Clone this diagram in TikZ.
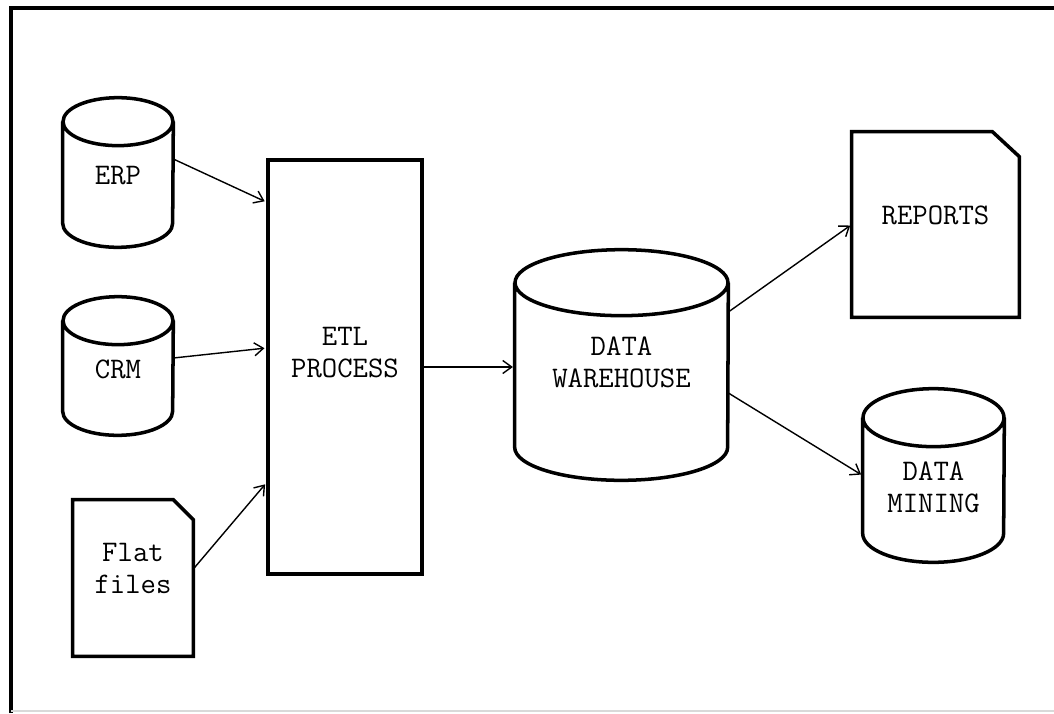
\documentclass[tikz,border=0pt]{standalone}
\usepackage{fontspec}
\usetikzlibrary{arrows.meta}

% drum outline drawn over a plain node: name, half width, half height of the cap
\newcommand\dbcyl[3]{%
  \draw[outline] ([yshift=-#3]#1.north west) -- ([yshift=#3]#1.south west)
    arc[start angle=180,end angle=360,x radius=#2,y radius=#3]
    -- ([yshift=-#3]#1.north east)
    ([yshift=-#3]#1.north) ellipse[x radius=#2,y radius=#3];}
% sheet with a cut top right corner: name, cut in x, cut in y
\newcommand\sheet[3]{%
  \draw[outline] (#1.south west) |- ([xshift=-#2]#1.north east)
    -- ([yshift=-#3]#1.north east) -- (#1.south east) -- cycle;}

\begin{document}
\begin{tikzpicture}[x=0.02cm,y=-0.02cm,
      plain/.style={inner sep=0pt,align=center,
                    font=\ttfamily\fontsize{17}{18.2}\selectfont},
      lift/.style 2 args={text height=#1,text depth=#2},
      outline/.style={line width=2pt},
      proc/.style={plain,draw,line width=2pt},
      flow/.style={-{Straight Barb[length=1.8mm,width=2.6mm]},line width=0.8pt,
                   shorten >=1pt}]
    \useasboundingbox (0,0) rectangle (1054,713);
    % frame
    \draw[line width=2.6pt] (11,713) -- (11,8) -- (1054,8);
    \draw[black!15,line width=1pt] (11,711) -- (1054,711);

    % sources
    \node[plain,lift={0.5cm}{0cm},minimum width=2.2cm,minimum height=2.98cm] (erp) at (118,172.5) {ERP};
    \node[plain,lift={0.48cm}{0cm},minimum width=2.2cm,minimum height=2.76cm] (crm) at (118,366) {CRM};
    \node[plain,lift={0.6cm}{0cm},minimum width=2.4cm,minimum height=3.12cm] (flat) at (133,578) {Flat\\files};
    \dbcyl{erp}{1.1cm}{0.48cm}
    \dbcyl{crm}{1.1cm}{0.48cm}
    \sheet{flat}{0.4cm}{0.4cm}

    \node[proc,lift={0.4cm}{0cm},minimum width=3.08cm,minimum height=8.28cm] (etl) at (345,367) {ETL\\PROCESS};

    \node[plain,lift={0.9cm}{0cm},minimum width=4.26cm,minimum height=4.6cm] (dw) at (621.5,365) {DATA\\WAREHOUSE};
    \dbcyl{dw}{2.13cm}{0.66cm}

    % outputs
    \node[plain,lift={0.4cm}{0.42cm},minimum width=3.34cm,minimum height=3.7cm] (reports) at (935.5,224.5) {REPORTS};
    \node[plain,lift={1.48cm}{0cm},minimum width=2.82cm,minimum height=3.46cm] (mining) at (933.5,475.5) {DATA\\MINING};
    \sheet{reports}{0.54cm}{0.5cm}
    \dbcyl{mining}{1.41cm}{0.58cm}

    \foreach \s/\src/\t in {0.27/erp/3.3,0.16/crm/0.38,0.18/flat/-2.32}
      \draw[flow] ([yshift=\s cm]\src.east) -- ([yshift=\t cm]etl.west);
    \draw[flow] (etl.east) -- (etl.east -| dw.west);
    \draw[flow] ([yshift=1.06cm]dw.east) -- (reports.west);
    \draw[flow] ([yshift=-0.56cm]dw.east) -- (mining.west);
  \end{tikzpicture}
\end{document}
